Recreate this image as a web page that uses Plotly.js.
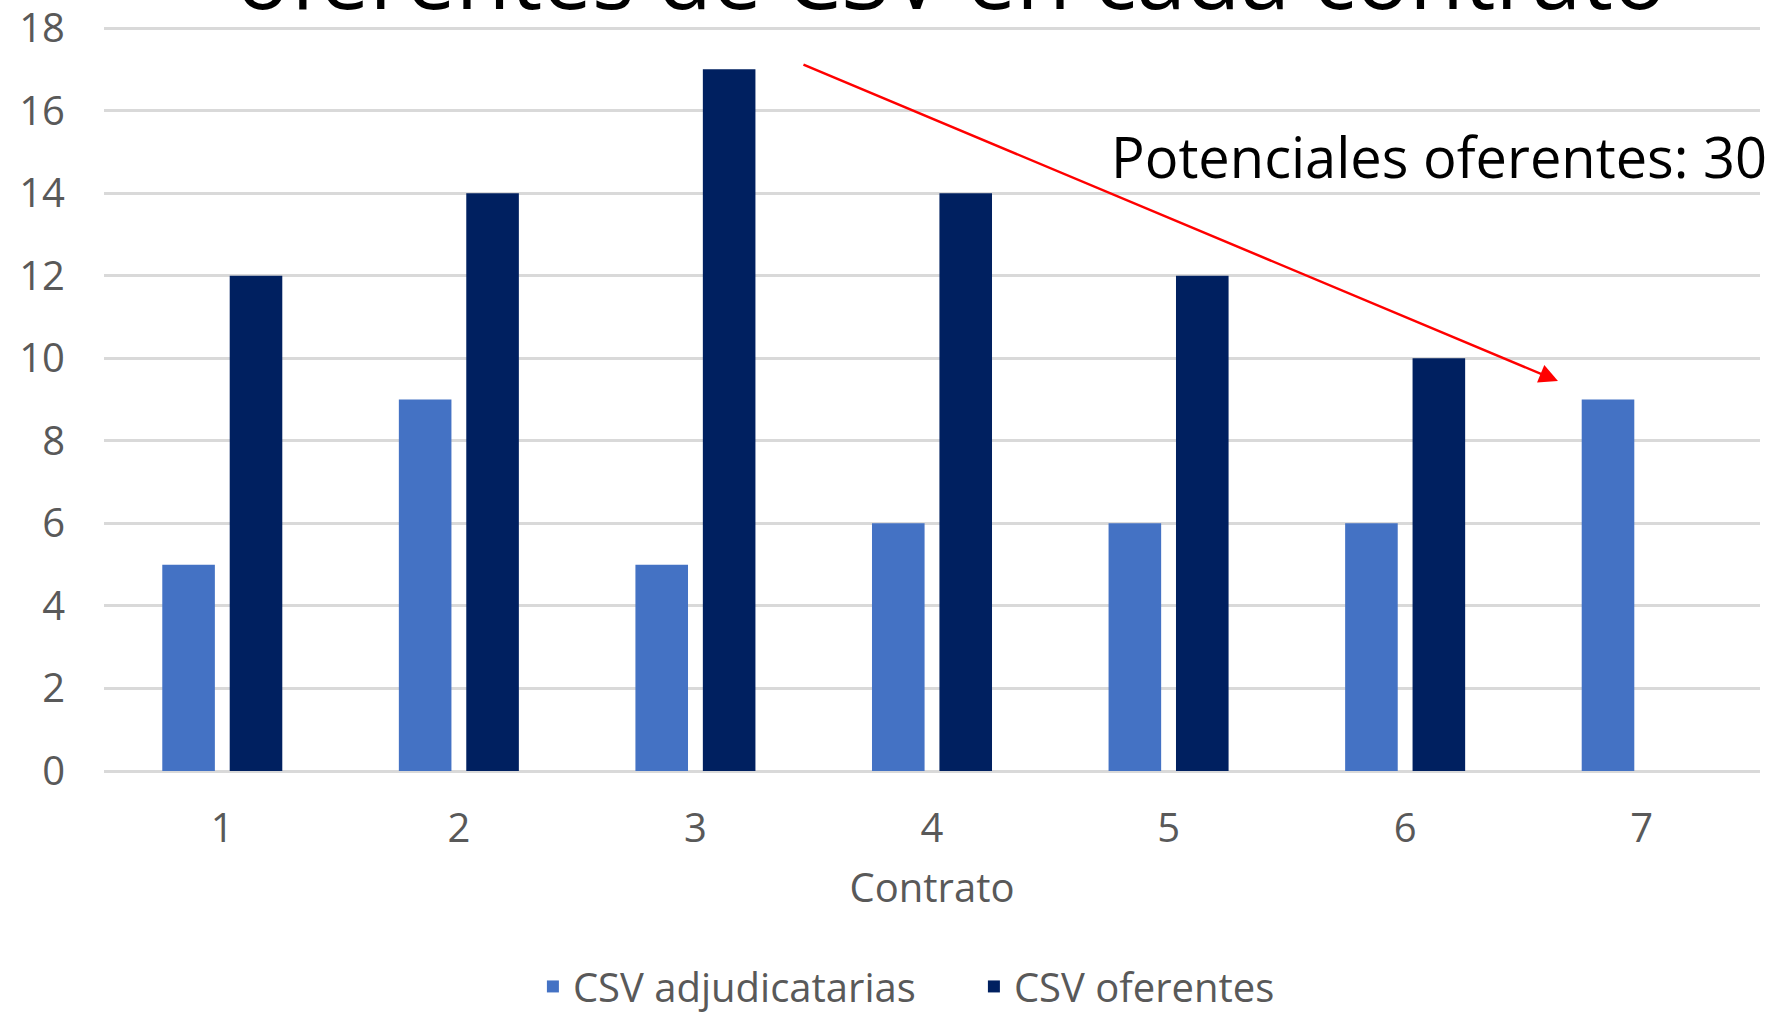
<!DOCTYPE html>
<html>
<head>
<meta charset="utf-8">
<script src="https://cdn.plot.ly/plotly-3.0.1.min.js"></script>
<style>
html, body { margin: 0; padding: 0; background: #ffffff; }
#chart { width: 1772px; height: 1018px; }
</style>
</head>
<body>
<div id="chart"></div>
<script>
const contratos = ['1', '2', '3', '4', '5', '6', '7'];
const csvAdjudicatarias = [5, 9, 5, 6, 6, 6, 9];
const csvOferentes = [12, 14, 17, 14, 12, 10, null];
const seriesNames = ['CSV adjudicatarias', 'CSV oferentes'];
const yTicks = [0, 2, 4, 6, 8, 10, 12, 14, 16, 18];
const titleText = 'oferentes de CSV en cada contrato';
const noteText = 'Potenciales oferentes: 30';
const xTitle = 'Contrato';

const FONT = '"Open Sans", "Noto Sans", sans-serif';
const GRAY = '#595959';

const traces = [
  {
    type: 'bar', name: seriesNames[0], x: contratos, y: csvAdjudicatarias,
    marker: { color: '#4472C4', line: { width: 0 } }
  },
  {
    type: 'bar', name: seriesNames[1], x: contratos, y: csvOferentes,
    marker: { color: '#002060', line: { width: 0 } }
  }
];

const layout = {
  width: 1772, height: 1018,
  margin: { l: 104, r: 12, t: 26, b: 247, autoexpand: false },
  paper_bgcolor: '#ffffff', plot_bgcolor: '#ffffff',
  font: { family: FONT, color: GRAY, size: 40 },
  barmode: 'group', bargap: 0.43, bargroupgap: 0.22,
  xaxis: {
    type: 'category', showgrid: false, showline: false, ticks: '',
    tickfont: { family: FONT, size: 40, color: GRAY },
    ticklabelstandoff: 30,
    title: { text: xTitle, font: { family: FONT, size: 40, color: GRAY }, standoff: 20 }
  },
  yaxis: {
    range: [0, 18.05], tickmode: 'array', tickvals: yTicks, showline: false, ticks: '',
    gridcolor: '#D9D9D9', gridwidth: 3,
    zeroline: true, zerolinecolor: '#D9D9D9', zerolinewidth: 3,
    tickfont: { family: FONT, size: 40, color: GRAY },
    ticklabelstandoff: 38, ticklabeloverflow: 'allow'
  },
  showlegend: true,
  legend: {
    orientation: 'h', xref: 'paper', x: 0.259, xanchor: 'left',
    yref: 'container', y: 0.031, yanchor: 'middle',
    entrywidth: 396, entrywidthmode: 'pixels',
    font: { family: FONT, size: 40, color: GRAY },
    bgcolor: 'rgba(0,0,0,0)'
  },
  annotations: [
    {
      xref: 'paper', yref: 'paper', x: 0.512, y: 1.0685, xanchor: 'center', yanchor: 'middle',
      text: titleText, showarrow: false,
      font: { family: FONT, size: 89, color: '#000000' }
    },
    {
      xref: 'paper', yref: 'paper', x: 0.607, y: 0.8255, xanchor: 'left', yanchor: 'middle',
      text: noteText, showarrow: false,
      font: { family: FONT, size: 56, color: '#000000' }
    },
    {
      xref: 'paper', yref: 'paper', x: 0.878, y: 0.5235,
      axref: 'pixel', ayref: 'pixel', ax: -756, ay: -317,
      text: '', showarrow: true, arrowhead: 2, arrowsize: 1.5, arrowwidth: 2.5,
      arrowcolor: '#FF0000', standoff: 0
    }
  ]
};

Plotly.newPlot('chart', traces, layout, { displayModeBar: false, staticPlot: true });
</script>
</body>
</html>
